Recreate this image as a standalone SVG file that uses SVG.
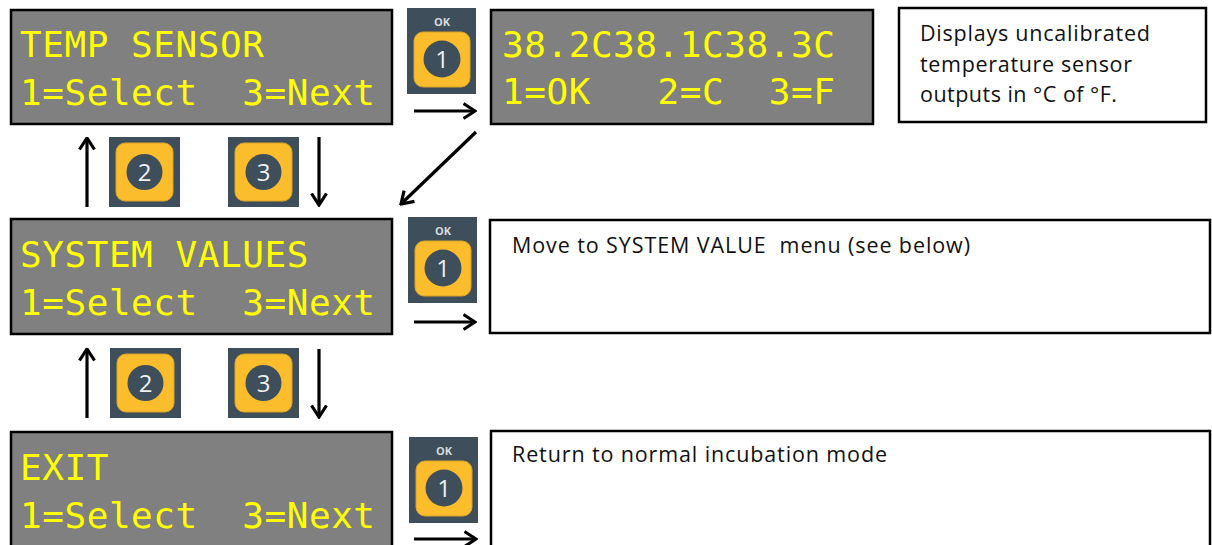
<svg xmlns="http://www.w3.org/2000/svg" xmlns:xlink="http://www.w3.org/1999/xlink" width="1212" height="545" viewBox="0 0 1212 545">
  <style>
    .lcd { fill: #808080; stroke: #000; stroke-width: 2.5; }
    .lcdt { font-family: "DejaVu Sans Mono", "Liberation Mono", monospace; font-size: 36px; fill: #ffff00; letter-spacing: 0.55px; white-space: pre; }
    .box { fill: #fff; stroke: #000; stroke-width: 2.5; }
    .note { font-family: "Open Sans", "Noto Sans", "Liberation Sans", sans-serif; font-size: 21.5px; fill: #111; white-space: pre; }
    .btn { fill: #3e4e5a; }
    .key { fill: #fbbd2c; stroke: #d9a328; stroke-width: 1; }
    .num { font-family: "Open Sans", "Noto Sans", sans-serif; font-size: 24px; fill: #eef0f2; text-anchor: middle; }
    .ok { font-family: "Open Sans", "Liberation Sans", sans-serif; font-size: 11px; font-weight: bold; fill: #d5dadd; text-anchor: middle; }
    .con { stroke: #000; stroke-width: 3.2; fill: none; marker-end: url(#head); }
  </style>
  <defs>
    <marker id="head" markerUnits="userSpaceOnUse" viewBox="0 0 14 18" refX="12.5" refY="9" markerWidth="14" markerHeight="18" orient="auto">
      <path d="M1,1.5 L12.5,9 L1,16.5" fill="none" stroke="#000" stroke-width="3.2"/>
    </marker>
    <g id="okbtn">
      <rect class="btn" x="0" y="0" width="69" height="86"/>
      <text class="ok" x="35" y="18">OK</text>
      <rect class="key" x="7" y="24" width="56" height="55" rx="9"/>
      <circle class="btn" cx="35" cy="51" r="18.5"/>
      <text class="num" x="35" y="59.5">1</text>
    </g>
    <g id="keybase">
      <rect class="btn" x="0" y="0" width="71" height="70"/>
      <rect class="key" x="7" y="6" width="57" height="58" rx="9"/>
      <circle class="btn" cx="35.5" cy="35" r="18"/>
    </g>
  </defs>

  <rect width="1212" height="545" fill="#fff"/>

  <g id="lcd-temp-sensor">
    <rect class="lcd" x="11" y="10" width="381" height="114"/>
    <text class="lcdt" x="20" y="57">TEMP SENSOR</text>
    <text class="lcdt" x="20" y="105">1=Select  3=Next</text>
  </g>

  <g id="lcd-temp-readout">
    <rect class="lcd" x="491" y="10" width="382" height="114"/>
    <text class="lcdt" x="502" y="57">38.2C38.1C38.3C</text>
    <text class="lcdt" x="502" y="104">1=OK   2=C  3=F</text>
  </g>

  <g id="note-temp">
    <rect class="box" x="899" y="8" width="307" height="114"/>
    <text class="note" x="920" y="41" textLength="230" lengthAdjust="spacing">Displays uncalibrated</text>
    <text class="note" x="920" y="72" textLength="212" lengthAdjust="spacing">temperature sensor</text>
    <text class="note" x="920" y="102" textLength="197" lengthAdjust="spacing">outputs in °C of °F.</text>
  </g>

  <g id="lcd-system-values">
    <rect class="lcd" x="11" y="219" width="381" height="115"/>
    <text class="lcdt" x="20" y="267">SYSTEM VALUES</text>
    <text class="lcdt" x="20" y="315">1=Select  3=Next</text>
  </g>

  <g id="note-system">
    <rect class="box" x="490" y="220" width="720" height="113"/>
    <text class="note" x="512" y="253" textLength="458" lengthAdjust="spacing">Move to SYSTEM VALUE  menu (see below)</text>
  </g>

  <g id="lcd-exit">
    <rect class="lcd" x="11" y="432" width="381" height="125"/>
    <text class="lcdt" x="20" y="480">EXIT</text>
    <text class="lcdt" x="20" y="528">1=Select  3=Next</text>
  </g>

  <g id="note-exit">
    <rect class="box" x="491" y="431" width="719" height="125"/>
    <text class="note" x="512" y="462" textLength="375" lengthAdjust="spacing">Return to normal incubation mode</text>
  </g>

  <g id="ok-button-1"><use xlink:href="#okbtn" x="407" y="8"/></g>
  <g id="ok-button-2"><use xlink:href="#okbtn" x="408" y="217"/></g>
  <g id="ok-button-3"><use xlink:href="#okbtn" x="409" y="437"/></g>

  <g id="key-2-a"><use xlink:href="#keybase" x="109" y="137"/><text class="num" x="144.5" y="180.5">2</text></g>
  <g id="key-3-a"><use xlink:href="#keybase" x="228" y="137"/><text class="num" x="263.5" y="180.5">3</text></g>
  <g id="key-2-b"><use xlink:href="#keybase" x="110" y="348"/><text class="num" x="145.5" y="391.5">2</text></g>
  <g id="key-3-b"><use xlink:href="#keybase" x="228" y="348"/><text class="num" x="263.5" y="391.5">3</text></g>

  <g id="connectors">
    <line class="con" x1="414" y1="111" x2="475" y2="111"/>
    <line class="con" x1="414" y1="322" x2="475" y2="322"/>
    <line class="con" x1="414" y1="539" x2="476" y2="539"/>
    <line class="con" x1="476" y1="132" x2="401" y2="204"/>
    <line class="con" x1="87" y1="207" x2="87" y2="138"/>
    <line class="con" x1="319" y1="137" x2="319" y2="205"/>
    <line class="con" x1="87" y1="418" x2="87" y2="349"/>
    <line class="con" x1="319" y1="349" x2="319" y2="417"/>
  </g>
</svg>
